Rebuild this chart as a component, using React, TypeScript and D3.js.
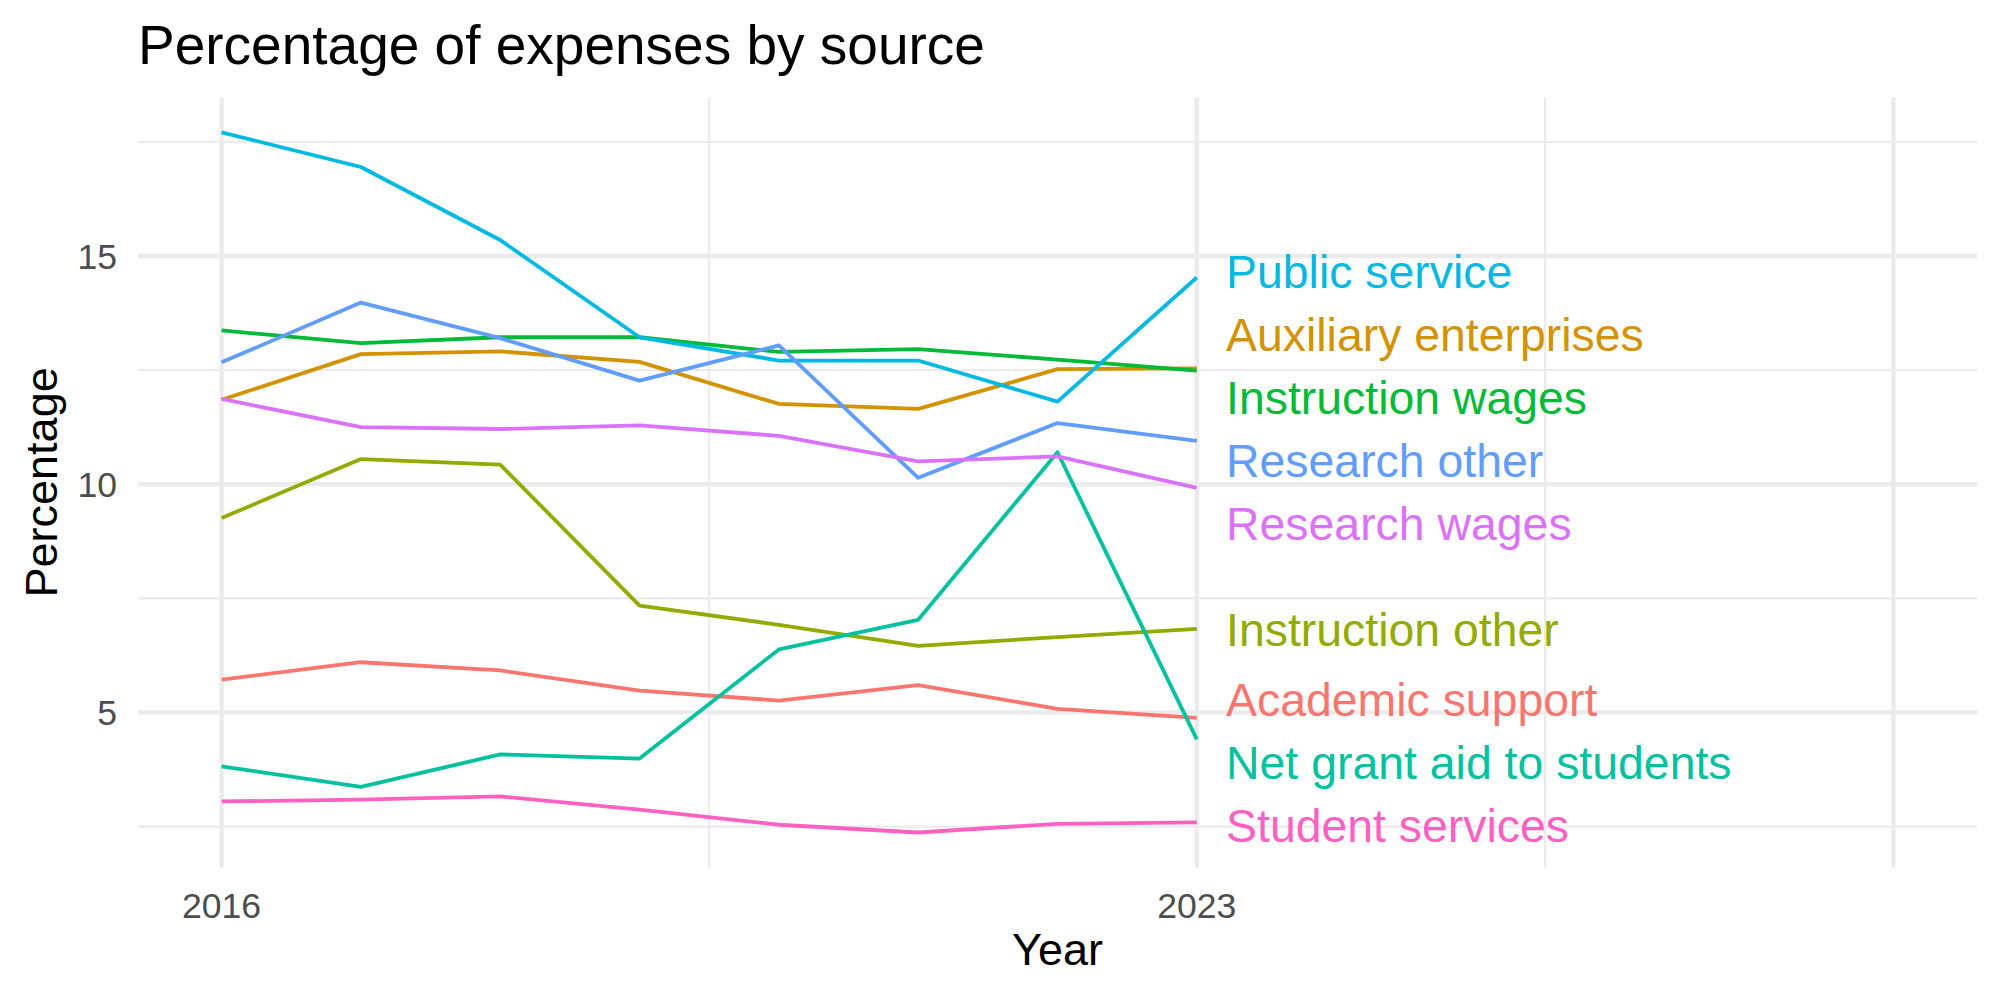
import * as d3 from "d3";

const years = [2016, 2017, 2018, 2019, 2020, 2021, 2022, 2023];

// percentage of expenses, one array per source (alphabetical = ggplot colour order)
const academicSupport = [5.72, 6.10, 5.92, 5.48, 5.26, 5.60, 5.08, 4.88];
const auxiliaryEnterprises = [11.85, 12.85, 12.91, 12.68, 11.76, 11.65, 12.52, 12.54];
const instructionOther = [9.26, 10.55, 10.43, 7.34, 6.92, 6.46, 6.65, 6.83];
const instructionWages = [13.37, 13.09, 13.22, 13.22, 12.90, 12.96, 12.73, 12.49];
const netGrantAid = [3.82, 3.37, 4.08, 3.99, 6.38, 7.03, 10.70, 4.41];
const publicService = [17.71, 16.95, 15.35, 13.22, 12.71, 12.71, 11.81, 14.53];
const researchOther = [12.67, 13.98, 13.20, 12.27, 13.04, 10.14, 11.34, 10.95];
const researchWages = [11.87, 11.25, 11.21, 11.29, 11.06, 10.50, 10.61, 9.92];
const studentServices = [3.05, 3.09, 3.16, 2.87, 2.54, 2.37, 2.56, 2.59];

const sourceNames = [
  "Academic support",
  "Auxiliary enterprises",
  "Instruction other",
  "Instruction wages",
  "Net grant aid to students",
  "Public service",
  "Research other",
  "Research wages",
  "Student services",
];
const sourceValues = [
  academicSupport, auxiliaryEnterprises, instructionOther, instructionWages,
  netGrantAid, publicService, researchOther, researchWages, studentServices,
];
const palette = ["#F8766D", "#D39200", "#93AA00", "#00BA38", "#00C19F", "#00B9E3", "#619CFF", "#DB72FB", "#FF61C3"];

const xBreaks = [2016, 2023, 2028];
const xBreakLabels = ["2016", "2023", ""];
const xMinor = [2019.5, 2025.5];
const yBreaks = [5, 10, 15];
const yMinor = [2.5, 7.5, 12.5, 17.5];

const W = 2000, H = 1000;
const panel = { left: 138, right: 1977, top: 97.3, bottom: 867.5 };
const font = "'Liberation Sans', Arial, Helvetica, sans-serif";

// push end labels apart vertically (simple repel, slightly favouring downward moves)
function repel(ys, gap) {
  const order = ys.map((_, i) => i).sort((a, b) => ys[a] - ys[b]);
  const pos = ys.slice();
  for (let it = 0; it < 600; it++) {
    for (let k = 1; k < order.length; k++) {
      const a = order[k - 1], b = order[k];
      const d = pos[b] - pos[a];
      if (d < gap) { const m = gap - d; pos[a] -= m * 0.42; pos[b] += m * 0.58; }
    }
  }
  return pos;
}

export default function App() {
  const x = d3.scaleLinear([2016 - 0.6, 2028 + 0.6], [panel.left, panel.right]);
  const [lo, hi] = d3.extent(sourceValues.flat());
  const pad = (hi - lo) * 0.05;
  const y = d3.scaleLinear([lo - pad, hi + pad], [panel.bottom, panel.top]);

  const line = d3.line<number>().x((_, i) => x(years[i])).y((d) => y(d));

  const endY = sourceValues.map((v) => y(v[v.length - 1]));
  const labelY = repel(endY, 63.2);
  const labelSize = 46.4;

  return (
    <div style={{ position: "absolute", left: 0, top: 0 }}>
      <svg width={W} height={H} style={{ display: "block", background: "#fff" }} fontFamily={font}>
        {/* grid */}
        <g stroke="#EBEBEB" fill="none">
          {yMinor.map((v) => (
            <line key={"ym" + v} x1={panel.left} x2={panel.right} y1={y(v)} y2={y(v)} strokeWidth={2.15} />
          ))}
          {xMinor.map((v) => (
            <line key={"xm" + v} x1={x(v)} x2={x(v)} y1={panel.top} y2={panel.bottom} strokeWidth={2.15} />
          ))}
          {yBreaks.map((v) => (
            <line key={"yM" + v} x1={panel.left} x2={panel.right} y1={y(v)} y2={y(v)} strokeWidth={4.3} />
          ))}
          {xBreaks.map((v) => (
            <line key={"xM" + v} x1={x(v)} x2={x(v)} y1={panel.top} y2={panel.bottom} strokeWidth={4.3} />
          ))}
        </g>

        {/* series */}
        <g fill="none" strokeWidth={3.8} strokeLinejoin="round">
          {sourceValues.map((v, i) => (
            <path key={sourceNames[i]} d={line(v)} stroke={palette[i]} />
          ))}
        </g>

        {/* end labels */}
        <g fontSize={labelSize}>
          {sourceNames.map((name, i) => (
            <text key={name} x={x(2023 + 0.21)} y={labelY[i] + labelSize * 0.358} fill={palette[i]}>
              {name}
            </text>
          ))}
        </g>

        {/* axes text */}
        <g fontSize={35.6} fill="#4D4D4D">
          {yBreaks.map((v) => (
            <text key={"yl" + v} x={117} y={y(v) + 12.9} textAnchor="end">{v}</text>
          ))}
          {xBreaks.map((v, i) => (
            <text key={"xl" + v} x={x(v)} y={918} textAnchor="middle">{xBreakLabels[i]}</text>
          ))}
        </g>
        <text x={(panel.left + panel.right) / 2} y={965} fontSize={45} textAnchor="middle" fill="#000">Year</text>
        <text
          transform={`translate(57,${(panel.top + panel.bottom) / 2}) rotate(-90)`}
          fontSize={45}
          textAnchor="middle"
          fill="#000"
        >
          Percentage
        </text>
        <text x={138} y={64} fontSize={55} fill="#000">Percentage of expenses by source</text>
      </svg>
    </div>
  );
}
